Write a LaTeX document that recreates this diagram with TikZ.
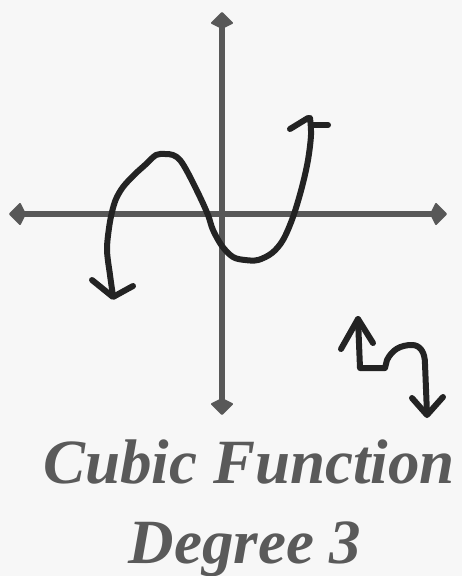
\documentclass[tikz,border=0pt]{standalone}
\usepackage{fontspec}
\setmainfont{Liberation Serif}
\definecolor{bg}{HTML}{F7F7F7}
\definecolor{axisgray}{HTML}{585858}
\definecolor{ink}{HTML}{232323}
\definecolor{titlegray}{HTML}{5A5A5A}
\begin{document}
\begin{tikzpicture}[x=1pt,y=-1pt,
  axis/.style={line width=6pt, draw=axisgray},
  kite/.style={fill=axisgray, draw=axisgray, line width=2pt, line join=round},
  pen/.style={line width=6pt, draw=ink, line cap=round, line join=round},
  title/.style={font=\fontsize{63}{63}\selectfont\bfseries\itshape, text=titlegray, anchor=base, inner sep=0pt}]
\fill[bg] (0,0) rectangle (462,576);
\useasboundingbox (0,0) rectangle (462,576);
% axes
\coordinate (xl) at (10,214);
\coordinate (xr) at (446,214);
\coordinate (yt) at (222,13);
\coordinate (yb) at (222,414);
\draw[axis] ([xshift=10pt]xl) -- ([xshift=-10pt]xr);
\draw[axis] ([yshift=-10pt]yt) -- ([yshift=10pt]yb);
\draw[kite] (xl) -- ++(10,-10) -- ++(5,10) -- ++(-5,10) -- cycle;
\draw[kite] (xr) -- ++(-10,-10) -- ++(-5,10) -- ++(5,10) -- cycle;
\draw[kite] (yt) -- ++(-10,10) -- ++(10,5) -- ++(10,-5) -- cycle;
\draw[kite] (yb) -- ++(-10,-10) -- ++(10,-5) -- ++(10,5) -- cycle;
% cubic curve
\draw[pen] plot[smooth, tension=0.55] coordinates {(113,296) (110,275) (107,250) (109,228) (112,212) (116,199) (123,187) (134,175) (145,165) (156,155) (165,154) (173,155) (180,160) (188,173) (200,197) (208,215) (213,230) (222,246) (233,257) (245,260) (258,260) (272,253) (283,240) (293,217) (302,187) (308,160) (311,135) (310,118)};
\draw[pen] (92,280) -- (113,297) -- (133,286);
\draw[pen] (290,129) -- (308,118);
\draw[pen] (311,125) -- (328,125);
% small icon
\draw[pen] (341,349) -- (358,319) -- (373,343);
\draw[pen] (358,319) -- (360,368) -- (385,368) -- (387,360)
  .. controls (392,350) and (400,345) .. (412,345)
  .. controls (420,345) and (425,352) .. (425,364) -- (427,414);
\draw[pen] (412,398) -- (427,415) -- (443,397);
% titles
\node[title] (t1) at (249,483) {Cubic Function};
\node[title] (t2) at (245,563) {Degree 3};
\end{tikzpicture}
\end{document}
